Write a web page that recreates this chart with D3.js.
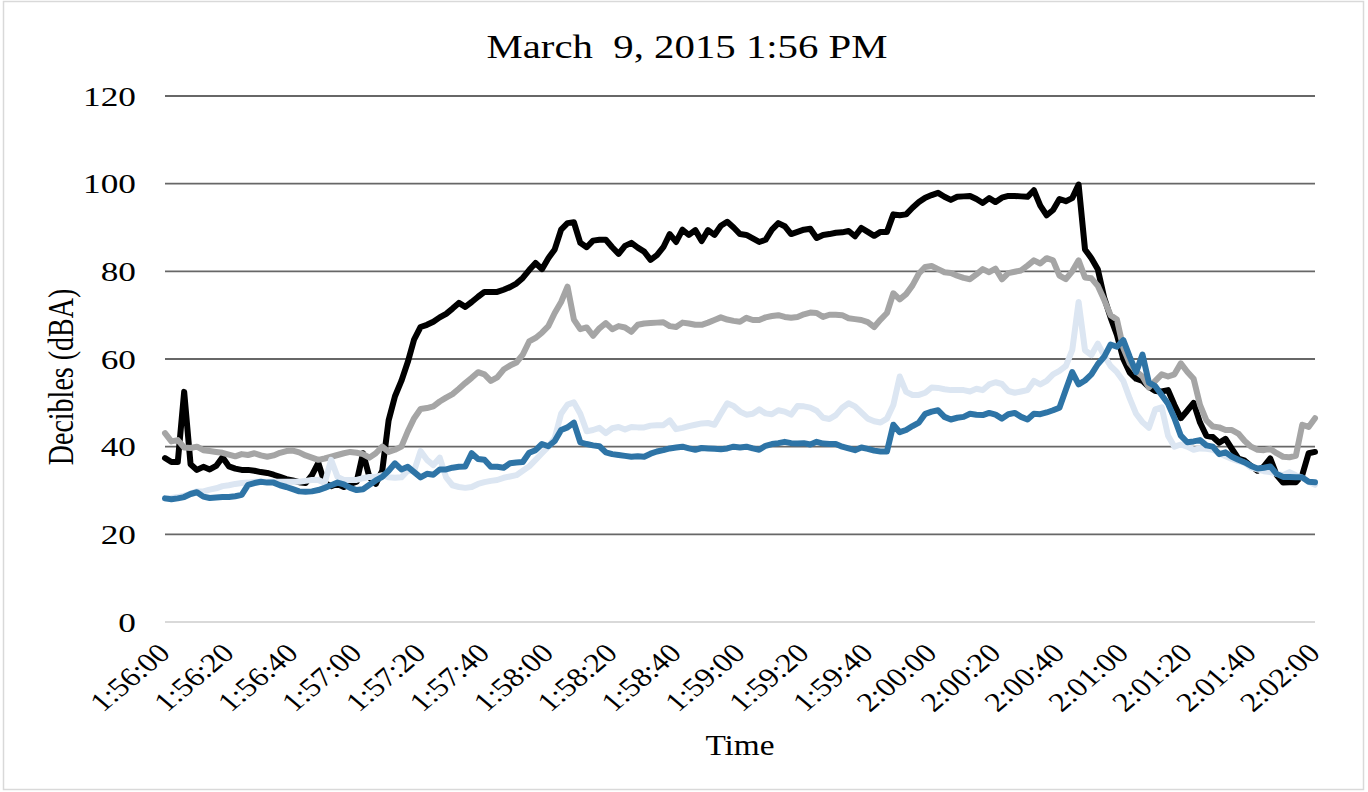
<!DOCTYPE html>
<html>
<head>
<meta charset="utf-8">
<script src="https://cdn.jsdelivr.net/npm/d3@7"></script>
<style>
  body { margin: 0; background: #fff; }
  text { font-family: "Liberation Serif", "Times New Roman", serif; fill: #000; }
</style>
</head>
<body>
<svg></svg>
<script>
// readings every 2 seconds, 1:56:00 -> 2:02:00
var seconds = d3.range(0, 361, 2);

var blackSeries = [
  37.4, 36.5, 36.5, 52.5, 36, 34.7, 35.4, 34.8, 35.6, 37.6,
  35.5, 35, 34.7, 34.7, 34.5, 34.2, 34, 33.6, 33.1, 32.6,
  32.3, 31.9, 31.7, 33.5, 36.3, 31.7, 31, 31.5, 30.8, 31.5,
  32, 38.5, 33, 31.5, 34.5, 46, 51.5, 55, 59.3, 64.5,
  67.3, 67.8, 68.5, 69.5, 70.3, 71.5, 72.8, 71.9, 73, 74.2,
  75.3, 75.3, 75.3, 75.8, 76.4, 77.2, 78.5, 80.3, 81.9, 80.5,
  83, 85, 89.5, 91, 91.2, 86.5, 85.5, 87, 87.2, 87.2,
  85.5, 84, 85.8, 86.5, 85.4, 84.5, 82.6, 83.7, 85.5, 88.5,
  86.7, 89.5, 88.3, 89.4, 86.9, 89.4, 88.3, 90.4, 91.3, 90,
  88.5, 88.3, 87.5, 86.7, 87.2, 89.5, 91, 90.3, 88.5, 89,
  89.5, 89.7, 87.6, 88.3, 88.5, 88.8, 88.9, 89.2, 88, 89.9,
  89, 88.1, 89, 89, 93, 92.8, 93, 94.5, 95.8, 96.8,
  97.4, 97.9, 97, 96.3, 97, 97.1, 97.2, 96.5, 95.6, 96.7,
  95.8, 96.8, 97.2, 97.2, 97.1, 97, 98.5, 95, 92.8, 94,
  96.5, 96, 96.7, 99.8, 85, 83, 80.5, 74, 69.5, 65.5,
  60, 56.9, 55.5, 55, 53.6, 52.7, 52.6, 52.9, 49.5, 46.5,
  48.2, 50, 45.5, 42.5, 42.2, 40.9, 41.8, 39.5, 37.3, 36.8,
  35.6, 34.5, 35.5, 37.3, 33.5, 31.8, 31.9, 31.9, 33.5, 38.5,
  38.8
];

var graySeries = [
  43.1, 41.2, 41.5, 39.8, 39.7, 40, 39.2, 39, 38.8, 38.6,
  38.2, 37.8, 38.3, 38.1, 38.5, 38, 37.7, 38, 38.6, 39,
  39.1, 38.7, 38, 37.5, 37, 37.3, 37.7, 38.1, 38.5, 38.8,
  38.6, 38.3, 37.5, 38.5, 40, 38.8, 39.3, 40, 43.5, 46.5,
  48.6, 48.8, 49.2, 50.3, 51.2, 52, 53.2, 54.5, 55.7, 57,
  56.5, 55, 55.8, 57.6, 58.5, 59.2, 61, 64, 64.8, 66,
  67.5, 70.5, 73, 76.5, 69, 66.8, 67.2, 65.3, 67, 68.2,
  66.8, 67.5, 67.2, 66.2, 67.8, 68.1, 68.2, 68.3, 68.4, 67.5,
  67.3, 68.3, 68.1, 67.8, 67.8, 68.3, 68.9, 69.5, 69, 68.7,
  68.5, 69.4, 68.9, 68.9, 69.5, 69.8, 70, 69.6, 69.4, 69.6,
  70.2, 70.6, 70.5, 69.6, 70.1, 70.1, 70, 69.3, 69.1, 68.9,
  68.4, 67.3, 69, 70.5, 75, 73.6, 74.8, 76.8, 79.5, 81,
  81.2, 80.5, 79.8, 79.6, 79, 78.5, 78.2, 79.3, 80.5, 79.8,
  80.6, 78.2, 79.6, 79.9, 80.2, 81.3, 82.5, 81.8, 83, 82.5,
  79, 78.2, 80, 82.5, 78.6, 78.4, 76.7, 73.5, 70, 69,
  62.5, 59, 57.2, 56, 53.5, 55, 56.5, 56, 56.5, 59,
  57.1, 55.5, 49.5, 46, 44.6, 44.4, 43.8, 43.8, 43, 41.3,
  40, 39.3, 39.2, 39.5, 38.5, 37.7, 37.6, 37.9, 45, 44.5,
  46.5
];

var lightBlueSeries = [
  28.2, 28.3, 28.5, 28.8, 29.3, 29.8, 29.8, 30.2, 30.5, 31,
  31.2, 31.5, 31.7, 31.8, 32, 32, 32, 32, 32, 32,
  32, 32, 32.2, 32.4, 32.4, 31.7, 37, 33.1, 32.4, 32.4,
  32.4, 32.8, 33.1, 33.1, 33.5, 33, 32.9, 33, 34.5, 34.5,
  39, 37, 35.8, 37.5, 33, 31.2, 30.8, 30.6, 30.8, 31.5,
  31.9, 32.2, 32.4, 32.9, 33.2, 33.5, 34.5, 35.5, 37, 38.5,
  40, 42, 47.5, 49.6, 50.1, 47.5, 43.5, 43.8, 44.3, 43.1,
  44.2, 44.5, 43.9, 44.5, 44.4, 44.4, 44.8, 44.9, 44.9, 46,
  44, 44.3, 44.7, 45, 45.3, 45.4, 45, 47.5, 49.9, 49.3,
  48, 47.3, 47.5, 48.5, 47.6, 47.4, 48.3, 48, 47.3, 49.3,
  49.2, 48.9, 48.2, 46.6, 46.3, 47.2, 48.9, 49.9, 49.2, 47.8,
  46.4, 45.8, 45.5, 46.4, 49.5, 56, 52.5, 51.8, 51.8, 52.3,
  53.5, 53.4, 53.1, 52.9, 52.9, 52.9, 52.6, 53.2, 52.9, 54.2,
  54.7, 54.3, 52.7, 52.3, 52.6, 52.9, 55, 54.2, 55, 56.5,
  57.3, 58.4, 62, 73, 62, 60.9, 63.5, 60.8, 58.4, 57,
  55, 51, 47.5, 45.6, 44.3, 48.5, 49, 42.5, 40, 40.5,
  40, 39.3, 39.6, 39.5, 39.3, 38.5, 37.8, 37.2, 36.7, 36.3,
  35.2, 34.8, 34.4, 34.2, 33.8, 33.5, 34.2, 33.5, 32.9, 32,
  31.3
];

var blueSeries = [
  28.2, 28, 28.2, 28.5, 29.2, 29.6, 28.6, 28.3, 28.4, 28.5,
  28.5, 28.7, 29, 31.3, 31.7, 32, 31.8, 31.8, 31.2, 30.8,
  30.3, 29.8, 29.7, 29.8, 30.1, 30.6, 31.2, 31.8, 31.4, 30.6,
  30.1, 30.3, 31.3, 32.3, 33.1, 34.5, 36.2, 34.8, 35.4, 34.2,
  33, 33.8, 33.6, 34.8, 34.8, 35.2, 35.4, 35.5, 38.5, 37.2,
  37, 35.4, 35.4, 35.2, 36.2, 36.4, 36.5, 38.6, 39.2, 40.6,
  40.1, 41.3, 43.8, 44.4, 45.5, 41, 40.6, 40.3, 40.1, 38.7,
  38.3, 38.1, 37.9, 37.7, 37.8, 37.7, 38.4, 38.9, 39.2, 39.6,
  39.8, 40, 39.6, 39.3, 39.7, 39.6, 39.5, 39.4, 39.6, 40,
  39.8, 40, 39.6, 39.3, 40.2, 40.6, 40.8, 41.1, 40.8, 40.7,
  40.8, 40.5, 41.1, 40.7, 40.6, 40.6, 40, 39.6, 39.2, 39.8,
  39.5, 39.1, 38.9, 38.9, 45, 43.3, 43.8, 44.7, 45.5, 47.5,
  48, 48.3, 46.8, 46.2, 46.6, 46.8, 47.5, 47.3, 47.2, 47.7,
  47.3, 46.4, 47.4, 47.7, 46.8, 46.2, 47.5, 47.4, 47.8, 48.3,
  48.9, 53, 57, 54.2, 55.1, 56.5, 58.8, 60.5, 63.3, 62.8,
  64.3, 60.5, 57, 61, 54.6, 53.8, 51.8, 49.8, 46.5, 42.5,
  41, 41.2, 41.5, 40.3, 40, 38.3, 38.7, 37.7, 37, 36.4,
  35.6, 35, 35.2, 35.5, 33.8, 33.1, 33.1, 33, 33, 32,
  31.9
];

var yTicks = [0, 20, 40, 60, 80, 100, 120];
var xTickSeconds = d3.range(0, 361, 20);
var xTickLabels = ["1:56:00", "1:56:20", "1:56:40", "1:57:00", "1:57:20", "1:57:40",
  "1:58:00", "1:58:20", "1:58:40", "1:59:00", "1:59:20", "1:59:40",
  "2:00:00", "2:00:20", "2:00:40", "2:01:00", "2:01:20", "2:01:40", "2:02:00"];

var width = 1368,
  height = 792,
  margin = { top: 96, right: 53, bottom: 170, left: 165 };

var svg = d3.select("svg").attr("width", width).attr("height", height);

// light frame round the chart
svg.append("rect")
  .attr("x", 3.5).attr("y", 1.5)
  .attr("width", 1360).attr("height", 788)
  .attr("fill", "#fff")
  .attr("stroke", "#d9d9d9")
  .attr("stroke-width", 1.5);

var x = d3.scaleLinear().domain([0, 360]).range([margin.left, width - margin.right]);
var y = d3.scaleLinear().domain([0, 120]).range([height - margin.bottom, margin.top]);

// gridlines
svg.append("g")
  .selectAll("line")
  .data(yTicks)
  .enter()
  .append("line")
  .attr("x1", x(0)).attr("x2", x(360))
  .attr("y1", function(d) { return y(d); })
  .attr("y2", function(d) { return y(d); })
  .attr("stroke", function(d) { return d === 0 ? "#d9d9d9" : "#676767"; })
  .attr("stroke-width", 1.8);

// y tick labels
svg.append("g")
  .selectAll("text")
  .data(yTicks)
  .enter()
  .append("text")
  .attr("transform", function(d) { return "translate(136," + y(d) + ") scale(1.26,1)"; })
  .attr("dy", "0.35em")
  .attr("text-anchor", "end")
  .style("font-size", "28px")
  .text(function(d) { return d; });

// x tick labels, slanted
svg.append("g")
  .selectAll("text")
  .data(xTickSeconds)
  .enter()
  .append("text")
  .attr("transform", function(d) {
    return "translate(" + (x(d) - 1) + ",648) scale(1.18,1) rotate(-45)";
  })
  .attr("dy", "0.35em")
  .attr("text-anchor", "end")
  .style("font-size", "27px")
  .text(function(d, i) { return xTickLabels[i]; });

// lines
var line = d3.line()
  .x(function(d, i) { return x(seconds[i]); })
  .y(function(d) { return y(d); });

var series = [
  { values: blackSeries, color: "#000000" },
  { values: graySeries, color: "#a5a5a5" },
  { values: lightBlueSeries, color: "#dce6f2" },
  { values: blueSeries, color: "#2e74a6" }
];

svg.append("g")
  .selectAll("path")
  .data(series)
  .enter()
  .append("path")
  .attr("d", function(d) { return line(d.values); })
  .attr("fill", "none")
  .attr("stroke", function(d) { return d.color; })
  .attr("stroke-width", 6)
  .attr("stroke-linejoin", "round")
  .attr("stroke-linecap", "round");

// titles
svg.append("text")
  .attr("transform", "translate(687,58) scale(1.2,1)")
  .attr("text-anchor", "middle")
  .style("font-size", "34px")
  .style("white-space", "pre")
  .text("March  9, 2015 1:56 PM");

svg.append("text")
  .attr("transform", "translate(60,377) scale(1.3,1) rotate(-90)")
  .attr("dy", "0.35em")
  .attr("text-anchor", "middle")
  .style("font-size", "28px")
  .text("Decibles (dBA)");

svg.append("text")
  .attr("transform", "translate(740,755) scale(1.15,1)")
  .attr("text-anchor", "middle")
  .style("font-size", "29px")
  .text("Time");
</script>
</body>
</html>
